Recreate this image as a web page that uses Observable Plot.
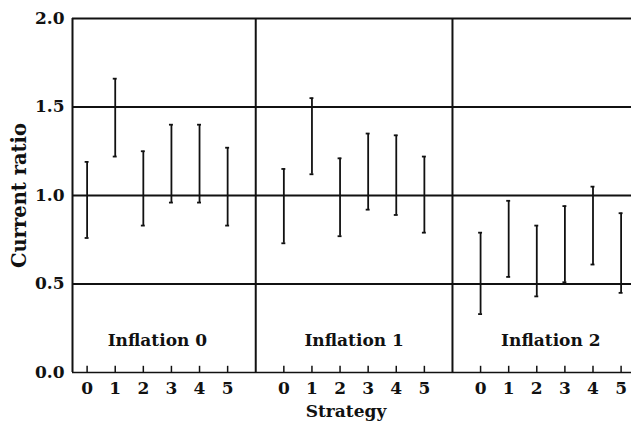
<!DOCTYPE html>
<html>
<head>
<meta charset="utf-8">
<script src="https://cdn.jsdelivr.net/npm/d3@7"></script>
<script src="https://cdn.jsdelivr.net/npm/@observablehq/plot@0.6"></script>
<style>
  html, body { margin: 0; padding: 0; background: #fff; }
</style>
</head>
<body>
<div id="chart"></div>
<script>
const facets = ["Inflation 0", "Inflation 1", "Inflation 2"];
const strategies = [0, 1, 2, 3, 4, 5];
const yTicks = [0, 0.5, 1.0, 1.5, 2.0];
const gridValues = [0.5, 1.0, 1.5, 2.0];

// range (low, high) of current ratio per strategy, one pair of arrays per facet
const low0  = [0.76, 1.22, 0.83, 0.96, 0.96, 0.83];
const high0 = [1.19, 1.66, 1.25, 1.40, 1.40, 1.27];
const low1  = [0.73, 1.12, 0.77, 0.92, 0.89, 0.79];
const high1 = [1.15, 1.55, 1.21, 1.35, 1.34, 1.22];
const low2  = [0.33, 0.54, 0.43, 0.51, 0.61, 0.45];
const high2 = [0.79, 0.97, 0.83, 0.94, 1.05, 0.90];

const lows = [low0, low1, low2];
const highs = [high0, high1, high2];
const step = 7; // strategy slots per facet (6 strategies + gap)

const data = facets.flatMap((f, fi) => strategies.map((s, si) => ({
  facet: f, strategy: s, pos: fi * step + s, low: lows[fi][si], high: highs[fi][si]
})));
const tickPos = data.map(d => d.pos);
const separators = facets.slice(1).map((f, fi) => (fi + 1) * step - 1);
const xMin = -0.52, xMax = 19.37;
const cap = 0.07;

const chart = Plot.plot({
  width: 631,
  height: 422,
  marginLeft: 72,
  marginRight: 0,
  marginTop: 18,
  marginBottom: 50,
  x: {domain: [xMin, xMax], axis: null},
  y: {domain: [0, 2], axis: null},
  style: {fontFamily: "'DejaVu Serif', 'Liberation Serif', serif", fontWeight: "bold", fontSize: "17px", color: "#111", background: "#fff"},
  marks: [
    Plot.ruleY(gridValues, {stroke: "#111", strokeWidth: 2}),
    Plot.ruleY([0], {stroke: "#111", strokeWidth: 1.5}),
    Plot.ruleX([xMin], {y1: 0, y2: 2, stroke: "#111", strokeWidth: 2}),
    Plot.ruleX(separators, {y1: 0, y2: 2, stroke: "#111", strokeWidth: 2}),
    Plot.ruleX(tickPos, {y1: 0, y2: 0.035, stroke: "#111", strokeWidth: 1.5}),
    Plot.ruleX(data, {x: "pos", y1: "low", y2: "high", stroke: "#111", strokeWidth: 1.8}),
    Plot.ruleY(data, {y: "low", x1: d => d.pos - cap, x2: d => d.pos + cap, stroke: "#111", strokeWidth: 1.8}),
    Plot.ruleY(data, {y: "high", x1: d => d.pos - cap, x2: d => d.pos + cap, stroke: "#111", strokeWidth: 1.8}),
    Plot.text(facets, {x: (d, i) => i * step + 2.5, y: 0.15, text: d => d, lineAnchor: "bottom", fill: "#111"}),
    Plot.axisY({ticks: yTicks, tickFormat: d3.format(".1f"), tickSize: 0, tickPadding: 8, label: null}),
    Plot.text(["Current ratio"], {frameAnchor: "left", dx: -53, rotate: -90, fontSize: 19.5, lineAnchor: "middle", textAnchor: "middle", fill: "#111"}),
    Plot.axisX({ticks: tickPos, tickFormat: d => d % step, tickSize: 0, tickPadding: 9, label: null}),
    Plot.text(["Strategy"], {frameAnchor: "bottom", dx: -6, dy: 44, lineAnchor: "bottom", fill: "#111"})
  ]
});
document.getElementById("chart").appendChild(chart);
</script>
</body>
</html>
